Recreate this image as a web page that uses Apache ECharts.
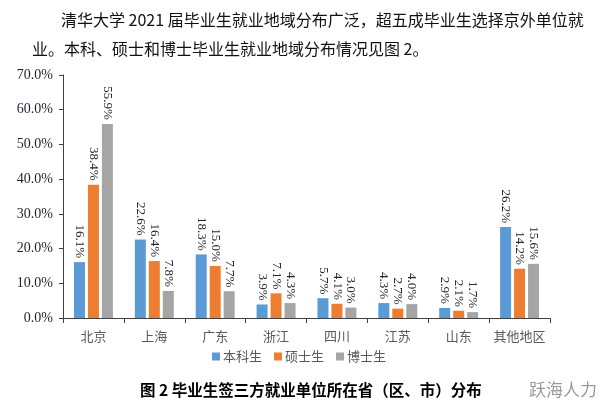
<!DOCTYPE html>
<html><head><meta charset="utf-8">
<script src="https://cdn.jsdelivr.net/npm/echarts@6/dist/echarts.min.js"></script>
<style>html,body{margin:0;padding:0;background:#fff}#c{width:613px;height:415px}</style>
</head><body><div id="c"></div>
<script>
const categories = ['北京','上海','广东','浙江','四川','江苏','山东','其他地区'];
const undergrad = [16.1, 22.6, 18.3, 3.9, 5.7, 4.3, 2.9, 26.2];
const master = [38.4, 16.4, 15.0, 7.1, 4.1, 2.7, 2.1, 14.2];
const doctor = [55.9, 7.8, 7.7, 4.3, 3.0, 4.0, 1.7, 15.6];
const seriesNames = ['本科生','硕士生','博士生'];
const yTicks = [0, 10, 20, 30, 40, 50, 60, 70];

const colors = ['#5B9BD5', '#ED7D31', '#A5A5A5'];
const serif = '"Liberation Serif","Times New Roman",serif';
const cjk = '"Noto Sans CJK SC",sans-serif';

const chart = echarts.init(document.getElementById('c'), null, {renderer:'canvas'});
const label = {
  show: true, position: 'top', rotate: -90, align: 'right', verticalAlign: 'middle',
  distance: 4, fontFamily: serif, fontSize: 13, color: '#262626',
  formatter: p => p.value.toFixed(1) + '%'
};
const mk = (name, data, i) => ({
  name, type: 'bar', data, barWidth: 11, barGap: '27%',
  itemStyle: {color: colors[i]}, label
});
chart.setOption({
  animation: false,
  textStyle: {fontFamily: cjk},
  grid: {left: 63, right: 63, top: 75, bottom: 97, containLabel: false},
  legend: {
    data: seriesNames, left: 207, top: 345, itemWidth: 8, itemHeight: 8, itemGap: 12,
    icon: 'rect', textStyle: {fontFamily: cjk, fontSize: 13, color: '#595959', padding: [0,0,0,-2]}
  },
  xAxis: {
    type: 'category', data: categories,
    axisLine: {lineStyle: {color: '#404040', width: 1}},
    axisTick: {show: true, length: 5, lineStyle: {color: '#404040'}},
    axisLabel: {interval: 0, fontFamily: cjk, fontSize: 13, color: '#595959', margin: 12}
  },
  yAxis: {
    type: 'value', min: yTicks[0], max: yTicks[yTicks.length-1], interval: 10,
    splitLine: {show: false},
    axisLine: {show: true, lineStyle: {color: '#404040', width: 1}},
    axisTick: {show: true, length: 4, lineStyle: {color: '#404040'}},
    axisLabel: {fontFamily: serif, fontSize: 14, color: '#1c2530', margin: 10,
      formatter: v => v.toFixed(1) + '%'}
  },
  series: [mk(seriesNames[0], undergrad, 0), mk(seriesNames[1], master, 1), mk(seriesNames[2], doctor, 2)],
  graphic: [
    {type: 'text', left: 61, top: 12, style: {text: '清华大学 2021 届毕业生就业地域分布广泛，超五成毕业生选择京外单位就', font: '16px "Noto Sans CJK SC"', fill: '#111'}},
    {type: 'text', left: 32, top: 41, style: {text: '业。本科、硕士和博士毕业生就业地域分布情况见图 2。', font: '16px "Noto Sans CJK SC"', fill: '#111'}},
    {type: 'text', left: 140, top: 382, style: {text: '图 2 毕业生签三方就业单位所在省（区、市）分布', font: 'bold 15.5px "Noto Sans CJK SC"', fill: '#000'}},
    {type: 'text', left: 529, top: 381, style: {text: '跃海人力', font: '17px "Noto Sans CJK SC"', fill: '#9a9a9a'}}
  ]
});
</script></body></html>
